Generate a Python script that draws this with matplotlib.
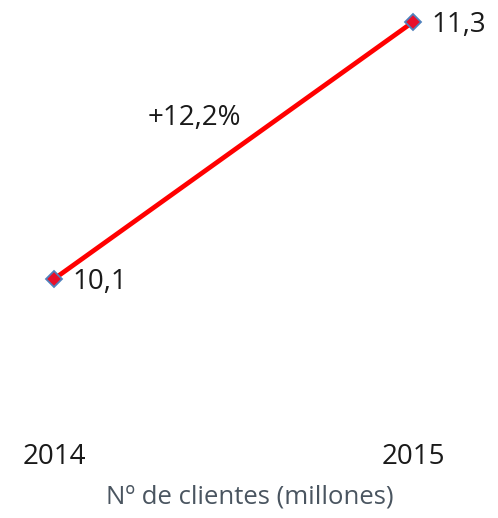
import matplotlib
matplotlib.use("Agg")
import matplotlib.pyplot as plt

years = [2014, 2015]
values = [10.1, 11.3]
value_labels = ["10,1", "11,3"]
growth_label = "+12,2%"
title = "Nº de clientes (millones)"

fig = plt.figure(figsize=(4.98, 5.18), dpi=100)
ax = fig.add_axes([0, 0, 1, 1])
ax.set_xlim(2014 - 54/359, 2014 + 444/359)
ax.set_ylim(10.1 - 239/214.17, 10.1 + 279/214.17)
ax.axis("off")

ax.plot(years, values, color="#FF0000", lw=3.4, zorder=2)
ax.plot(years, values, ls="none", marker="D", ms=8, mfc="#E8102A", mec="#4F81BD", mew=1.3, zorder=3)

for x, v, t in zip(years, values, value_labels):
    ax.annotate(t, (x, v), xytext=(13, -2), textcoords="offset points",
                ha="left", va="center", fontsize=20, color="#1a1a1a", family="Open Sans")

ax.text(2014 + (194-54)/359, 10.1 + (279-118)/214.17, growth_label, fontsize=20,
        ha="center", va="center", color="#1a1a1a", family="Open Sans")

for x in years:
    ax.text(x, 10.1 - (457-279)/214.17, str(x), ha="center", va="center",
            fontsize=20, color="#1a1a1a", family="Open Sans")

fig.text(250/498, 1 - 497/518, title, ha="center", va="center", fontsize=18.5,
         color="#4a5560", family="Open Sans")

fig.savefig("out.png", dpi=100)
